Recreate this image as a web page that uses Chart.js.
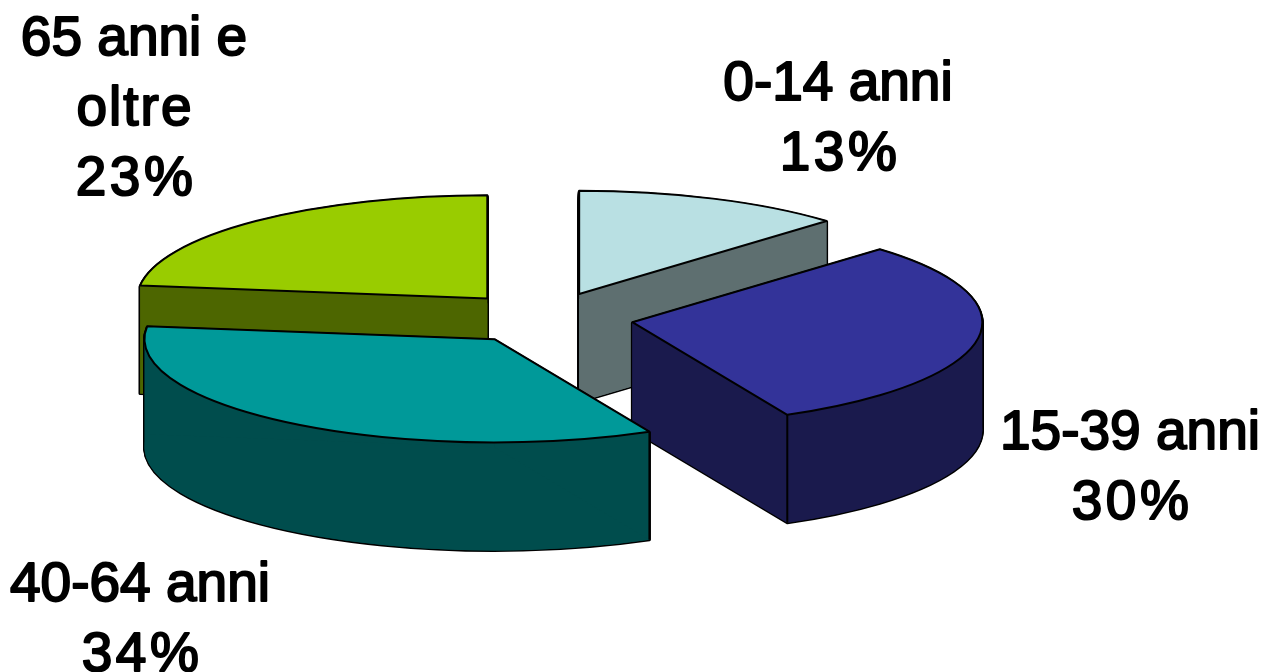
<!DOCTYPE html>
<html>
<head>
<meta charset="utf-8">
<title>Popolazione per classi di età</title>
<script src="https://cdn.jsdelivr.net/npm/chart.js@4"></script>
<style>
  html, body { margin: 0; padding: 0; background: #fff; overflow: hidden; }
  canvas { display: block; }
</style>
</head>
<body>
<canvas id="myChart" width="1265" height="672"></canvas>
<script>
const categories = ["0-14 anni", "15-39 anni", "40-64 anni", "65 anni e oltre"];
const shares = [12.5, 30.2, 34.3, 23];
const labelLines = [["0-14 anni"], ["15-39 anni"], ["40-64 anni"], ["65 anni e", "oltre"]];
const topColors = ["#B9E0E3", "#333399", "#009999", "#99CC00"];
const sideColors = ["#5E6F70", "#1A1A4D", "#004D4D", "#4D6600"];

// first label line: centre x, baseline y
const labelSpots = [[838, 100], [1130, 449], [140, 601], [134, 55]];
const lineHeight = 70;

// back slices first so the front ones cover them
const paintOrder = [0, 3, 1, 2];
const squash = 0.295;
const depth = 108;
const explode = 88;

function midAngle(arc) {
  return (arc.startAngle + arc.endAngle) / 2;
}

function place(ctx, arc, down) {
  const mid = midAngle(arc);
  ctx.translate(
    arc.x + Math.cos(mid) * explode,
    arc.y + down + Math.sin(mid) * explode * squash
  );
  ctx.scale(1, squash);
  ctx.translate(-arc.x, -arc.y);
}

// the path is built squashed but stroked flat, so the line width stays even
function slicePath(ctx, arc, down) {
  ctx.save();
  place(ctx, arc, down);
  ctx.beginPath();
  ctx.moveTo(arc.x, arc.y);
  ctx.arc(arc.x, arc.y, arc.outerRadius, arc.startAngle, arc.endAngle);
  ctx.closePath();
  ctx.restore();
}

function rimPoint(arc, angle) {
  const mid = midAngle(arc);
  return {
    x: arc.x + Math.cos(mid) * explode + Math.cos(angle) * arc.outerRadius,
    y: arc.y + (Math.sin(mid) * explode + Math.sin(angle) * arc.outerRadius) * squash,
  };
}

function frontEdge(ctx, arc, angle) {
  if (Math.sin(angle) <= 0) return;
  const p = rimPoint(arc, angle);
  ctx.beginPath();
  ctx.moveTo(p.x, p.y);
  ctx.lineTo(p.x, p.y + depth);
  ctx.stroke();
}

// curved wall, only the part that faces the viewer
function fillRim(ctx, arc) {
  const from = Math.max(arc.startAngle, 0);
  const to = Math.min(arc.endAngle, Math.PI);
  if (to <= from) return;
  ctx.beginPath();
  ctx.save();
  place(ctx, arc, 0);
  ctx.arc(arc.x, arc.y, arc.outerRadius, from, to);
  ctx.restore();
  ctx.save();
  place(ctx, arc, depth);
  ctx.arc(arc.x, arc.y, arc.outerRadius, to, from, true);
  ctx.restore();
  ctx.closePath();
  ctx.fill();
}

function fillCut(ctx, arc, angle) {
  const mid = midAngle(arc);
  const p = rimPoint(arc, angle);
  const apexX = arc.x + Math.cos(mid) * explode;
  const apexY = arc.y + Math.sin(mid) * explode * squash;
  ctx.beginPath();
  ctx.moveTo(apexX, apexY);
  ctx.lineTo(p.x, p.y);
  ctx.lineTo(p.x, p.y + depth);
  ctx.lineTo(apexX, apexY + depth);
  ctx.closePath();
  ctx.fill();
}

function drawSlice(ctx, arc, index) {
  ctx.lineJoin = "round";

  // outline of the whole block, then the side colour on top of it
  ctx.strokeStyle = "#000";
  ctx.lineWidth = 3;
  for (let d = depth; d > 0; d -= 1) {
    slicePath(ctx, arc, d);
    ctx.stroke();
  }
  ctx.fillStyle = sideColors[index];
  slicePath(ctx, arc, depth);
  ctx.fill();
  fillRim(ctx, arc);
  fillCut(ctx, arc, arc.startAngle);
  fillCut(ctx, arc, arc.endAngle);

  ctx.strokeStyle = "#000";
  ctx.lineWidth = 2;
  frontEdge(ctx, arc, arc.startAngle);
  frontEdge(ctx, arc, arc.endAngle);

  // top face
  ctx.save();
  place(ctx, arc, 0);
  arc.draw(ctx);
  ctx.restore();
  slicePath(ctx, arc, 0);
  ctx.stroke();
}

const pie3d = {
  id: "pie3d",
  beforeDatasetsDraw(chart) {
    const arcs = chart.getDatasetMeta(0).data;
    paintOrder.forEach((index) => drawSlice(chart.ctx, arcs[index], index));
    return false;
  },
  afterDraw(chart) {
    const ctx = chart.ctx;
    ctx.save();
    ctx.font = '55px "Liberation Sans"';
    ctx.textAlign = "center";
    ctx.textBaseline = "alphabetic";
    ctx.fillStyle = "#000";
    ctx.strokeStyle = "#000";
    ctx.lineWidth = 2;
    labelLines.forEach((lines, index) => {
      const [x, y] = labelSpots[index];
      lines.forEach((text, row) => {
        // the short word runs a little wider in the reference
        ctx.letterSpacing = row > 0 ? "2px" : "0px";
        const nudge = row > 0 ? 1 : 0;
        ctx.fillText(text, x + nudge, y + row * lineHeight);
        ctx.strokeText(text, x + nudge, y + row * lineHeight);
      });
      ctx.letterSpacing = "3.5px";
      const percent = `${Math.round(shares[index])}%`;
      ctx.fillText(percent, x + 2, y + lines.length * lineHeight);
      ctx.strokeText(percent, x + 2, y + lines.length * lineHeight);
    });
    ctx.restore();
  },
};

new Chart(document.getElementById("myChart"), {
  type: "pie",
  data: {
    labels: categories,
    datasets: [
      {
        data: shares,
        backgroundColor: topColors,
        borderWidth: 0,
        hoverOffset: 0,
      },
    ],
  },
  options: {
    responsive: false,
    animation: false,
    events: [],
    radius: 350,
    layout: { padding: { right: 174, bottom: 36 } },
    plugins: {
      legend: { display: false },
      tooltip: { enabled: false },
    },
  },
  plugins: [pie3d],
});
</script>
</body>
</html>
